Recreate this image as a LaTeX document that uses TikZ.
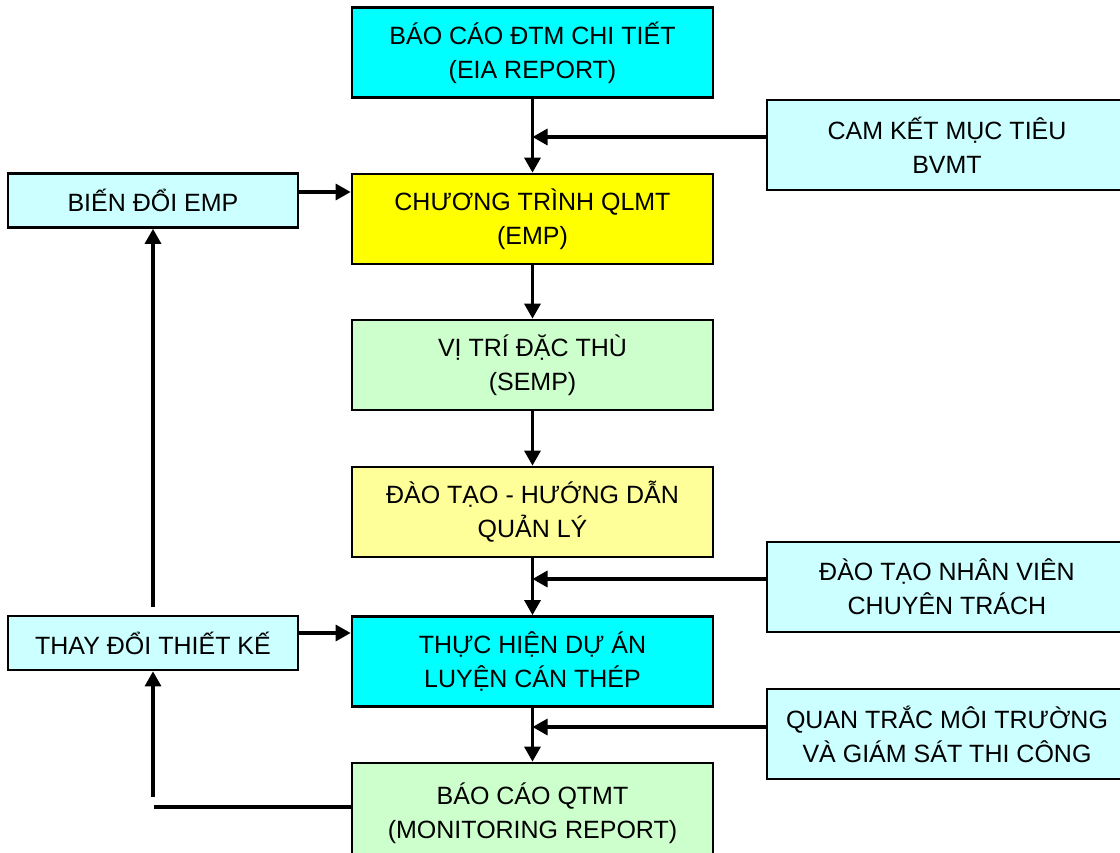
\documentclass[tikz,border=0pt]{standalone}
\usepackage{fontspec}
\setmainfont{Liberation Sans}
\usetikzlibrary{arrows.meta,calc}
\definecolor{cyanbox}{HTML}{00FFFF}
\definecolor{palecyan}{HTML}{CCFFFF}
\definecolor{yellowbox}{HTML}{FFFF00}
\definecolor{palegreen}{HTML}{CCFFCC}
\definecolor{paleyellow}{HTML}{FFFF99}
\begin{document}
\begin{tikzpicture}[x=1pt,y=-1pt,
  box/.style={draw=black,line width=2.7pt,align=center,inner sep=0pt,
    font=\fontsize{25}{34}\selectfont},
  mainbox/.style={box,minimum width=361pt,minimum height=90pt},
  sidebox/.style={box,fill=palecyan,minimum width=360pt,minimum height=90pt},
  leftbox/.style={box,fill=palecyan,minimum width=290pt,minimum height=54pt},
  flow/.style={line width=3.2pt,-{Triangle[length=15pt,width=16pt]}},
  plain/.style={line width=3.2pt}]
\clip (0,0) rectangle (1120,853);

% central column
\node[mainbox,fill=cyanbox]    (eia)  at (532.5,52.5) {BÁO CÁO ĐTM CHI TIẾT\\(EIA REPORT)};
\node[mainbox,fill=yellowbox]  (emp)  at (532.5,219)  {CHƯƠNG TRÌNH QLMT\\(EMP)};
\node[mainbox,fill=palegreen]  (semp) at (532.5,365)  {VỊ TRÍ ĐẶC THÙ\\(SEMP)};
\node[mainbox,fill=paleyellow] (train) at (532.5,512) {ĐÀO TẠO - HƯỚNG DẪN\\QUẢN LÝ};
\node[mainbox,fill=cyanbox]    (impl) at (532.5,661.5) {THỰC HIỆN DỰ ÁN\\LUYỆN CÁN THÉP};
\node[mainbox,fill=palegreen,minimum height=100pt] (mon) at (532.5,813) {BÁO CÁO QTMT\\(MONITORING REPORT)};

% right column
\node[sidebox] (goal)  at (947,145) {CAM KẾT MỤC TIÊU\\BVMT};
\node[sidebox] (staff) at (947,587) {ĐÀO TẠO NHÂN VIÊN\\CHUYÊN TRÁCH};
\node[sidebox] (watch) at (947,734) {QUAN TRẮC MÔI TRƯỜNG\\VÀ GIÁM SÁT THI CÔNG};

% left column
\node[leftbox] (change) at (153,200.5) {BIẾN ĐỔI EMP};
\node[leftbox] (design) at (153,643)   {THAY ĐỔI THIẾT KẾ};

% main flow
\draw[flow] (eia.south)   -- (emp.north);
\draw[flow] (emp.south)   -- (semp.north);
\draw[flow] (semp.south)  -- (train.north);
\draw[flow] (train.south) -- (impl.north);
\draw[flow] (impl.south)  -- (mon.north);

% inputs from the right
\coordinate (gin) at ($(goal.west)+(0,-8)$);
\draw[flow] (gin) -- (gin -| eia.south);
\coordinate (sin) at ($(staff.west)+(0,-8)$);
\draw[flow] (sin) -- (sin -| train.south);
\coordinate (win) at ($(watch.west)+(0,-7)$);
\draw[flow] (win) -- (win -| impl.south);

% inputs from the left
\coordinate (cin) at ($(change.east)+(0,-8.5)$);
\draw[flow] (cin) -- (cin -| emp.west);
\coordinate (din) at ($(design.east)+(0,-10)$);
\draw[flow] (din) -- (din -| impl.west);

% feedback loop
\coordinate (mout) at ($(mon.west)+(0,-6)$);
\coordinate (mcorner) at (154,807);
\draw[plain] (mout) -- (mcorner);
\coordinate (lup) at (153,797);
\draw[flow] (lup) -- (design.south);
\coordinate (dup) at (153,607);
\draw[flow] (dup) -- (change.south);
\end{tikzpicture}
\end{document}
